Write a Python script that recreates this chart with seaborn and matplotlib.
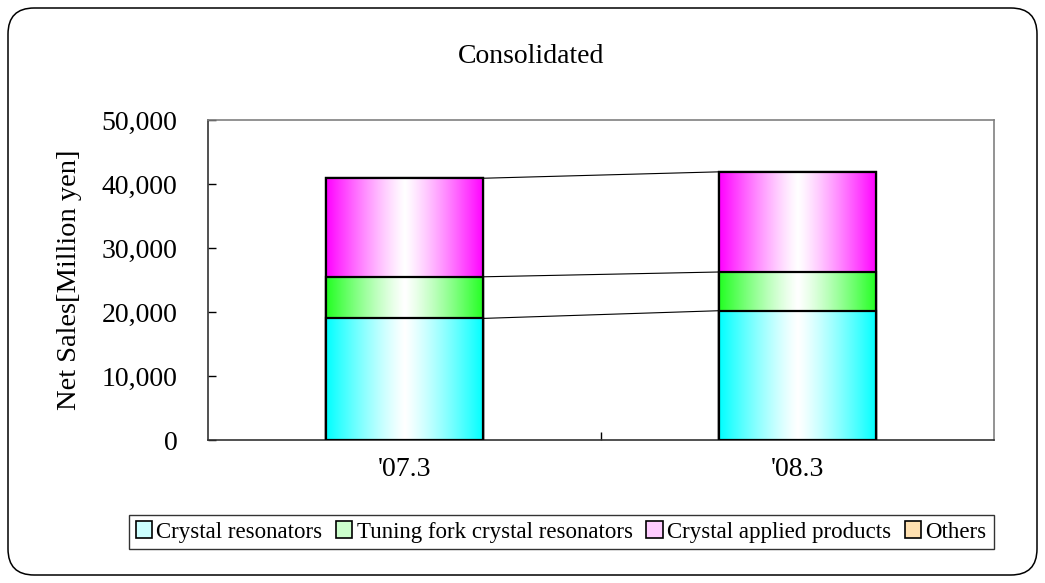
"""Consolidated net sales by product, stacked bars with gradient fill."""

import numpy as np
import pandas as pd
import matplotlib
matplotlib.use("Agg")
import matplotlib.pyplot as plt
from matplotlib.colors import to_rgb
from matplotlib.patches import FancyBboxPatch, Patch
import seaborn as sns

periods = ["'07.3", "'08.3"]
crystal_resonators = [19000, 20200]
tuning_fork = [6500, 6050]
applied_products = [15400, 15650]
others = [0, 0]

series_names = ["Crystal resonators", "Tuning fork crystal resonators",
                "Crystal applied products", "Others"]
bar_colors = ["#00FFFF", "#22FF22", "#FF00FF", "#FFCC80"]
legend_colors = ["#CCFFFF", "#CCFFCC", "#FFCCFF", "#FFE0B0"]

sns.set_theme(style="white")
plt.rcParams["font.family"] = ["Liberation Serif", "DejaVu Serif"]
plt.rcParams["text.color"] = "black"
plt.rcParams["axes.labelcolor"] = "black"

df = pd.DataFrame({"period": periods, "cr": crystal_resonators, "tf": tuning_fork,
                   "ap": applied_products, "ot": others})
cum = df[["cr", "tf", "ap", "ot"]].cumsum(axis=1)

fig = plt.figure(figsize=(10.45, 5.83), dpi=100)
ax = fig.add_axes([208 / 1045, 143 / 583, 786 / 1045, 320 / 583])

# draw cumulative layers, tallest first, each with a horizontal gradient
layers = ["ot", "ap", "tf", "cr"]
layer_colors = [bar_colors[3], bar_colors[2], bar_colors[1], bar_colors[0]]
for k, (col, c) in enumerate(zip(layers, layer_colors)):
    n0 = len(ax.patches)
    tmp = pd.DataFrame({"period": periods, "val": cum[col].values})
    sns.barplot(data=tmp, x="period", y="val", color=c, width=0.4, ax=ax,
                edgecolor="black", linewidth=1.6, saturation=1)
    rgb = np.array(to_rgb(c))
    t = np.abs(np.linspace(-1, 1, 256)) ** 1.2
    grad = (1 - t)[:, None] * np.ones(3) + t[:, None] * rgb
    grad = grad[None, :, :]
    for p in ax.patches[n0:]:
        if p.get_height() <= 0:
            continue
        x0, y0 = p.get_x(), p.get_y()
        w, h = p.get_width(), p.get_height()
        im = ax.imshow(grad, extent=[x0, x0 + w, y0, y0 + h], aspect="auto",
                       zorder=2 + 2 * k, interpolation="bilinear")
        im.set_clip_path(p)
        p.set_facecolor("none")
        p.set_zorder(2.5 + 2 * k)

# series lines between bar tops
for col in ["cr", "tf", "ap"]:
    ax.plot([0.2, 0.8], cum[col].values, color="black", lw=0.8, zorder=1)

ax.set_xlim(-0.5, 1.5)
ax.set_ylim(0, 50000)
ax.set_yticks(np.arange(0, 50001, 10000))
ax.set_yticklabels([f"{v:,}" for v in range(0, 50001, 10000)])
ax.set_xticks([0, 1])
ax.set_xticklabels(periods)
ax.set_xticks([0.5], minor=True)
ax.tick_params(axis="y", direction="in", length=6, width=1, pad=22,
               labelsize=20, colors="black", labelcolor="black", left=True)
ax.tick_params(axis="x", which="major", length=0, pad=12, labelsize=20,
               labelcolor="black")
ax.tick_params(axis="x", which="minor", direction="in", length=6, width=1,
               bottom=True, color="black")
ax.set_xlabel("")
ax.set_ylabel("Net Sales[Million yen]", fontsize=20.5, labelpad=14, color="black")
for s in ["left", "bottom"]:
    ax.spines[s].set_color("#333333")
    ax.spines[s].set_linewidth(1.2)
for s in ["top", "right"]:
    ax.spines[s].set_color("#808080")
    ax.spines[s].set_linewidth(1.2)

fig.text(0.508, 0.903, "Consolidated", ha="center", va="center", fontsize=20,
         color="black")

handles = [Patch(facecolor=fc, edgecolor="black", linewidth=1.2) for fc in legend_colors]
leg = fig.legend(handles, series_names, loc="center", bbox_to_anchor=(0.537, 0.0875),
                 ncol=4, fontsize=16.5, fancybox=False, edgecolor="black",
                 handlelength=0.7, handleheight=0.7, handletextpad=0.2,
                 columnspacing=0.6, borderpad=0.3, borderaxespad=0)
leg.get_frame().set_linewidth(1.0)
for txt in leg.get_texts():
    txt.set_color("black")

border = FancyBboxPatch((8 / 1045, 8 / 583), 1029 / 1045, 567 / 583,
                        boxstyle="round,pad=0,rounding_size=0.025",
                        transform=fig.transFigure, facecolor="none",
                        edgecolor="black", linewidth=1.1, mutation_aspect=1045 / 583)
fig.patches.append(border)

fig.savefig("out.png", dpi=100)
